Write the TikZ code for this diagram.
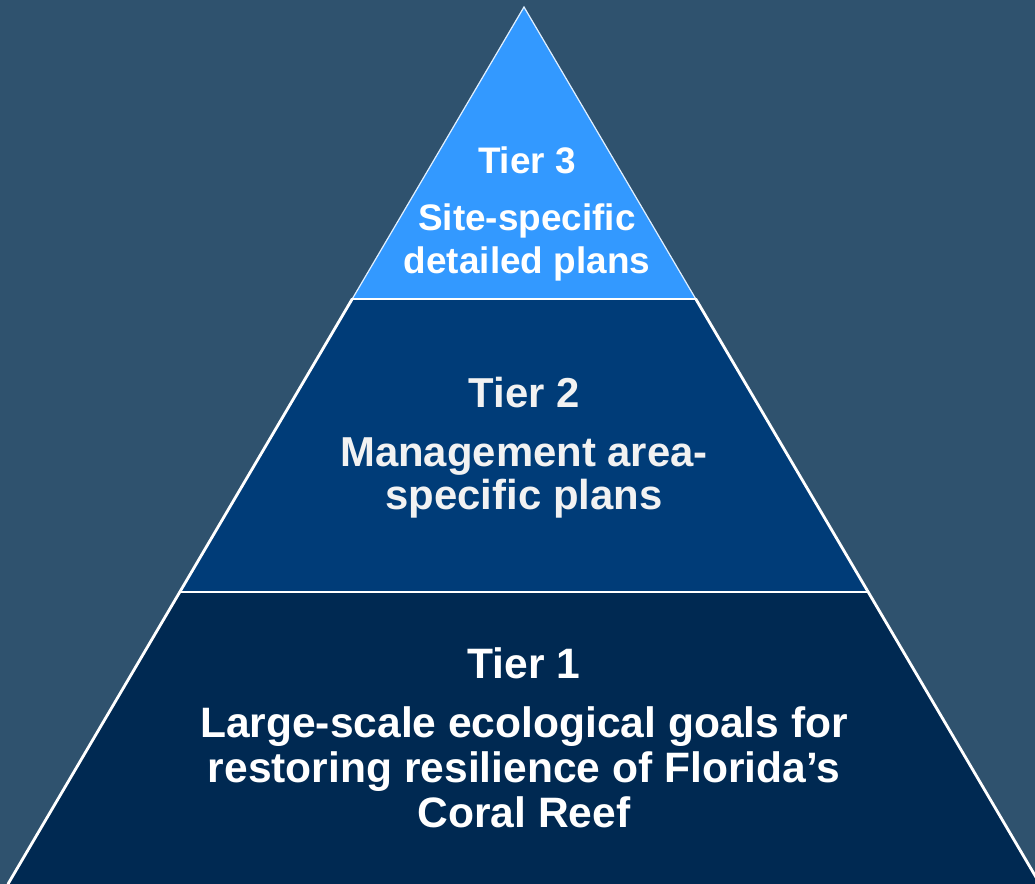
\documentclass[tikz,border=0pt]{standalone}
\usepackage{fontspec}
\setmainfont{Liberation Sans}
\usepackage{tikz}
\usetikzlibrary{calc}
\usetikzlibrary{positioning}
\definecolor{slate}{HTML}{2F526E}
\definecolor{skyblue}{HTML}{3399FF}
\definecolor{midnavy}{HTML}{003C78}
\definecolor{deepnavy}{HTML}{002952}
\definecolor{offwhite}{HTML}{F2F2F2}
\tikzstyle{tierlabel} = [draw = none, inner sep = 0, align = center, anchor = base, text = white]
\tikzstyle{edge} = [draw = white, line width = 0.8pt, line cap = round]

\begin{document}
\begin{tikzpicture}[x = 0.01cm, y = -0.01cm]
\useasboundingbox [fill = slate] (0, 0) rectangle (1035, 884);
\coordinate (top) at (524, 7);
\coordinate (baseL) at (8, 884);
\coordinate (baseR) at (1040, 884);
\coordinate (upL) at ($(top)!.333!(baseL)$);
\coordinate (upR) at ($(top)!.333!(baseR)$);
\coordinate (midL) at ($(top)!.667!(baseL)$);
\coordinate (midR) at ($(top)!.667!(baseR)$);
\fill [skyblue] (top) -- (upL) -- (upR) -- cycle;
\fill [midnavy] (upL) -- (midL) -- (midR) -- (upR) -- cycle;
\fill [deepnavy] (midL) -- (baseL) -- (baseR) -- (midR) -- cycle;
\draw [draw = white!85!skyblue, line width = 0.35pt] (upL) -- (top) -- (upR);
\draw [edge] (upL) -- (baseL);
\draw [edge] (upR) -- (baseR);
\draw [edge] (upL) -- (upR);
\draw [edge] (midL) -- (midR);
% tier 3
\node [tierlabel, font = \bfseries\fontsize{10.5}{12.2}\selectfont] (tier3) at (527, 173) {Tier 3};
\node [tierlabel, font = \bfseries\fontsize{10.5}{12.2}\selectfont] (tier3text) at (527, 273) {Site-specific\\detailed plans};
% tier 2
\node [tierlabel, text = offwhite, font = \bfseries\fontsize{11.9}{11.95}\selectfont] (tier2) at (524, 407) {Tier 2};
\node [tierlabel, text = offwhite, font = \bfseries\fontsize{11.9}{11.95}\selectfont] (tier2text) at (524, 509) {Management area-\\specific plans};
% tier 1
\node [tierlabel, font = \bfseries\fontsize{12.1}{12.66}\selectfont] (tier1) at (524, 678) {Tier 1};
\node [tierlabel, font = \bfseries\fontsize{12.1}{12.66}\selectfont] (tier1text) at (524, 827) {Large-scale ecological goals for\\restoring resilience of Florida’s\\Coral Reef};
\end{tikzpicture}
\end{document}
